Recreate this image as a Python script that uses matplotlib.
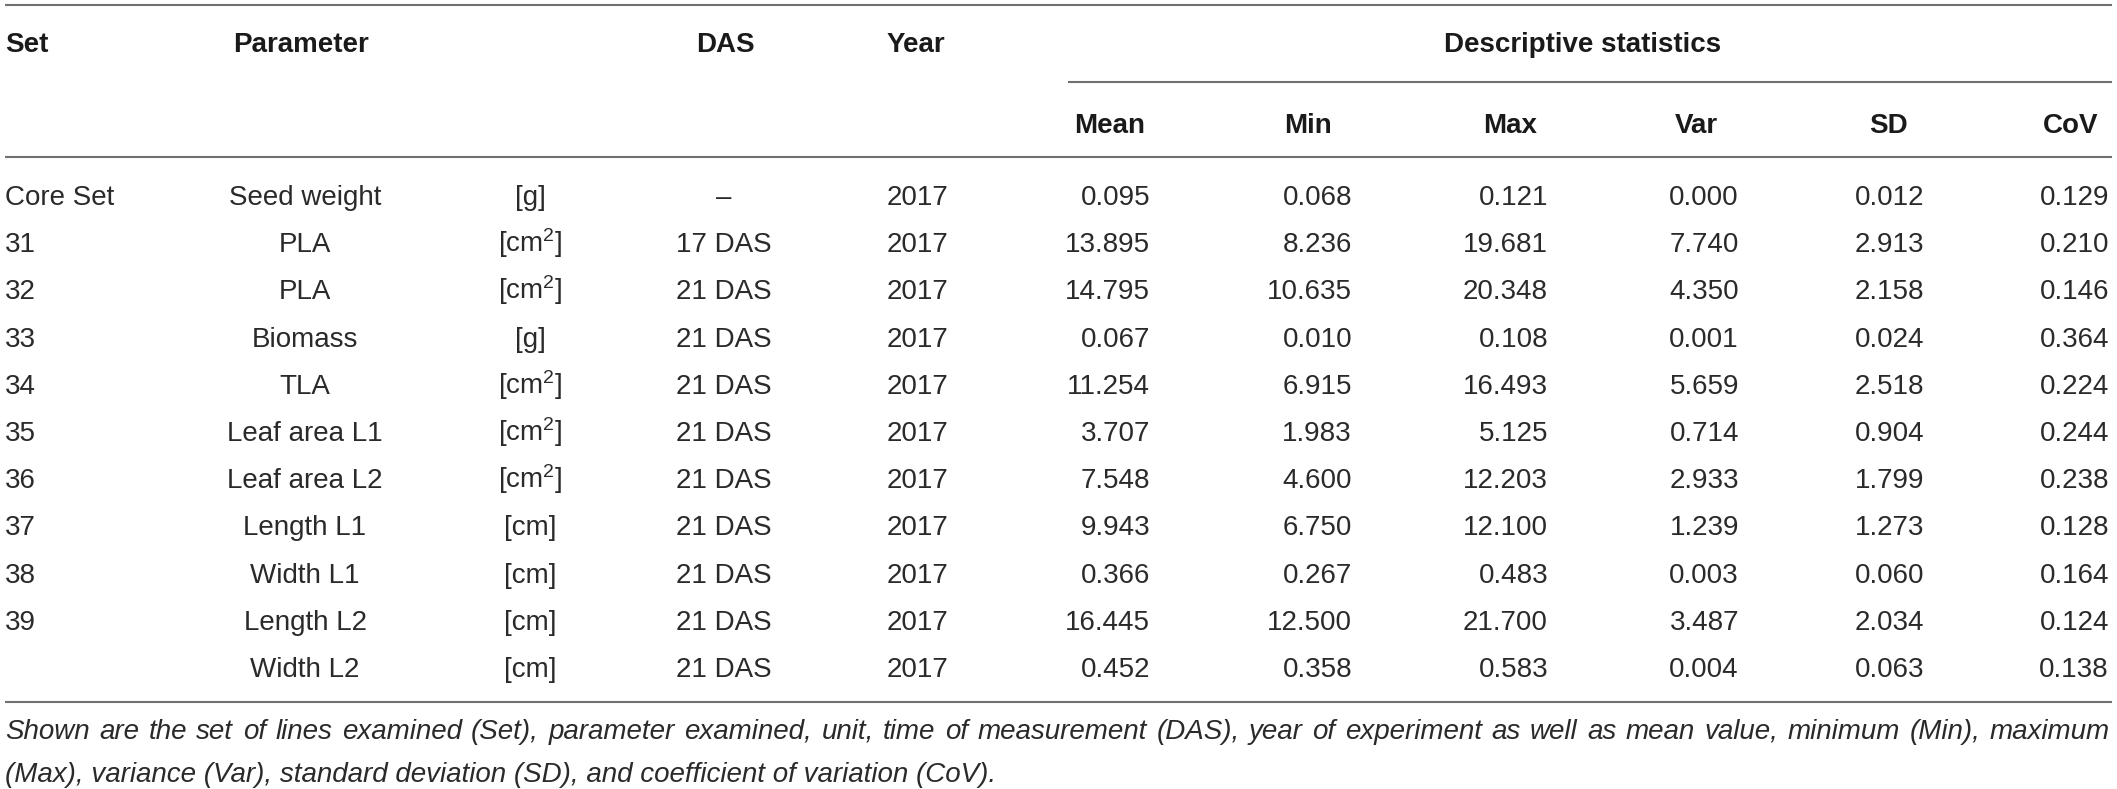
import matplotlib
matplotlib.use("Agg")
import matplotlib.pyplot as plt

plt.rcParams["font.family"] = ["Liberation Sans", "DejaVu Sans"]
plt.rcParams["mathtext.fontset"] = "custom"
plt.rcParams["mathtext.rm"] = "Liberation Sans"
plt.rcParams["mathtext.it"] = "Liberation Sans:italic"

# table content
sets = ["Core Set", "31", "32", "33", "34", "35", "36", "37", "38", "39", ""]
params = ["Seed weight", "PLA", "PLA", "Biomass", "TLA", "Leaf area L1",
          "Leaf area L2", "Length L1", "Width L1", "Length L2", "Width L2"]
units = ["[g]", "[cm$^2$]", "[cm$^2$]", "[g]", "[cm$^2$]", "[cm$^2$]",
         "[cm$^2$]", "[cm]", "[cm]", "[cm]", "[cm]"]
das = ["–", "17 DAS", "21 DAS", "21 DAS", "21 DAS", "21 DAS", "21 DAS",
       "21 DAS", "21 DAS", "21 DAS", "21 DAS"]
years = ["2017"] * 11
mean = [0.095, 13.895, 14.795, 0.067, 11.254, 3.707, 7.548, 9.943, 0.366, 16.445, 0.452]
vmin = [0.068, 8.236, 10.635, 0.010, 6.915, 1.983, 4.600, 6.750, 0.267, 12.500, 0.358]
vmax = [0.121, 19.681, 20.348, 0.108, 16.493, 5.125, 12.203, 12.100, 0.483, 21.700, 0.583]
var = [0.000, 7.740, 4.350, 0.001, 5.659, 0.714, 2.933, 1.239, 0.003, 3.487, 0.004]
sd = [0.012, 2.913, 2.158, 0.024, 2.518, 0.904, 1.799, 1.273, 0.060, 2.034, 0.063]
cov = [0.129, 0.210, 0.146, 0.364, 0.224, 0.244, 0.238, 0.128, 0.164, 0.124, 0.138]

stat_names = ["Mean", "Min", "Max", "Var", "SD", "CoV"]
footnote_1 = ("Shown are the set of lines examined (Set), parameter examined, unit, "
              "time of measurement (DAS), year of experiment as well as mean value, "
              "minimum (Min), maximum")
footnote_2 = ("(Max), variance (Var), standard deviation (SD), and coefficient of "
              "variation (CoV).")

# layout in pixels
W, H = 2117, 789
fs = 20
txt_col = "#2a2a2a"
head_col = "#1a1a1a"
rule_col = "#707070"
stat_right = [1150, 1352, 1548, 1739, 1924, 2109]
stat_head = [1110, 1308, 1510, 1696, 1888, 2071]
row_base0, row_step = 205, 47.2

fig = plt.figure(figsize=(W / 100, H / 100), dpi=100)
ax = fig.add_axes([0, 0, 1, 1])
ax.set_xlim(0, W)
ax.set_ylim(H, 0)
ax.axis("off")

# rules
for y, x0, x1 in [(5, 5, 2112), (82, 1068, 2112), (157, 5, 2112), (702, 5, 2112)]:
    ax.plot([x0, x1], [y, y], color=rule_col, lw=1.5, solid_capstyle="butt")

# headers
hk = dict(fontsize=fs, fontweight="bold", color=head_col, va="baseline")
ax.text(5, 52, "Set", ha="left", **hk)
ax.text(233, 52, "Parameter", ha="left", **hk)
ax.text(725, 52, "DAS", ha="center", **hk)
ax.text(887, 52, "Year", ha="left", **hk)
ax.text(1583, 52, "Descriptive statistics", ha="center", **hk)
for x, name in zip(stat_head, stat_names):
    ax.text(x, 133, name, ha="center", **hk)

# body
bk = dict(fontsize=fs, color=txt_col, va="baseline")
cols = [mean, vmin, vmax, var, sd, cov]
for i in range(len(sets)):
    y = row_base0 + i * row_step
    ax.text(5, y, sets[i], ha="left", **bk)
    ax.text(305, y, params[i], ha="center", **bk)
    ax.text(530, y, units[i], ha="center", **bk)
    ax.text(724, y, das[i], ha="center", **bk)
    ax.text(887, y, years[i], ha="left", **bk)
    for x, col in zip(stat_right, cols):
        ax.text(x, y, f"{col[i]:.3f}", ha="right", **bk)

# footnote, first line justified to the table width
fk = dict(fontsize=fs, style="italic", color=txt_col, va="baseline")
renderer = fig.canvas.get_renderer()
words = footnote_1.split(" ")
size = fs
while True:
    arts = [ax.text(0, 739, w, ha="left", **{**fk, "fontsize": size}) for w in words]
    widths = [a.get_window_extent(renderer).width for a in arts]
    gap = (2110 - 5 - sum(widths)) / (len(words) - 1)
    if gap >= size * 0.2 or size < 12:
        break
    for a in arts:
        a.remove()
    size -= 0.5
x = 5
for a, w in zip(arts, widths):
    a.set_x(x)
    x += w + gap
ax.text(5, 782, footnote_2, ha="left", **{**fk, "fontsize": size})

fig.savefig("out.png", dpi=100)
